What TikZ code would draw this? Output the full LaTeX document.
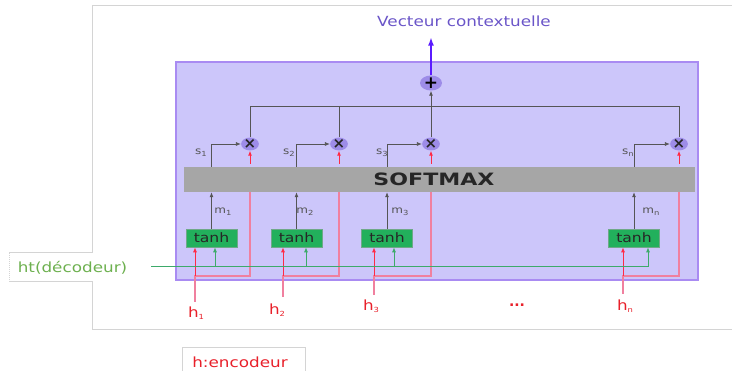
\documentclass[tikz,border=0pt]{standalone}
\usepackage{fontspec}
\setmainfont{DejaVu Sans}
\newfontfamily\wfont[FakeStretch=1.2]{DejaVu Sans}
\newfontfamily\smfont[FakeStretch=1.3]{DejaVu Sans}
\usetikzlibrary{arrows.meta,shapes.geometric}
\definecolor{framegray}{HTML}{D4D4D4}
\definecolor{pfill}{HTML}{CCC6FA}
\definecolor{pborder}{HTML}{A98BF2}
\definecolor{circ}{HTML}{9D8CE8}
\definecolor{smgray}{HTML}{A6A6A6}
\definecolor{tgreen}{HTML}{22B05C}
\definecolor{tborder}{HTML}{6FA888}
\definecolor{linegray}{HTML}{555555}
\definecolor{pinkcol}{HTML}{F0809F}
\definecolor{redarr}{HTML}{FF2A45}
\definecolor{greenl}{HTML}{3DAA6A}
\definecolor{toparr}{HTML}{5B1BFF}
\definecolor{vectxt}{HTML}{6A55C8}
\definecolor{httxt}{HTML}{6DB04F}
\definecolor{htxt}{HTML}{E8202A}
\newcommand\lsub[1]{\raisebox{-0.3ex}{\fontsize{7}{7}\selectfont #1}}
\begin{document}
\begin{tikzpicture}[x=1pt,y=-1pt,
  lin/.style={draw=linegray, line width=0.8pt},
  arr/.style={lin, -{Latex[length=5pt,width=4pt]}},
  mult/.style={ellipse, fill=circ, minimum width=17pt, minimum height=12pt, inner sep=0pt, font=\bfseries\fontsize{15}{15}\selectfont, text=black!85},
  plusn/.style={ellipse, fill=circ, minimum width=22pt, minimum height=15pt, inner sep=0pt, font=\bfseries\fontsize{17}{17}\selectfont},
  tanhbox/.style={rectangle, fill=tgreen, draw=tborder, line width=0.6pt, minimum width=51pt, minimum height=18pt, inner sep=0pt, font=\wfont\fontsize{13}{13}\selectfont, text=black!85},
  smbox/.style={rectangle, fill=smgray, minimum width=511pt, minimum height=25pt, inner sep=0pt},
  pbox/.style={rectangle, fill=pfill, draw=pborder, line width=1.3pt, minimum width=522pt, minimum height=218pt, inner sep=0pt},
  lab/.style={font=\wfont\fontsize{10}{10}\selectfont, text=linegray, inner sep=0pt},
  hlab/.style={font=\wfont\fontsize{14}{14}\selectfont, text=htxt, inner sep=0pt},
  pinkline/.style={draw=pinkcol, line width=1.3pt},
  redarrow/.style={draw=redarr, line width=1pt, -{Latex[length=5pt,width=4pt]}},
  greenline/.style={draw=greenl, line width=1pt},
  greenarrow/.style={draw=greenl, line width=1pt, -{Latex[length=5pt,width=4pt]}},
  framel/.style={draw=framegray, line width=1pt}
]
\useasboundingbox (0,0) rectangle (732,371);
% outer frame
\draw[framel] (732,6) -- (92,6) -- (92,253) -- (9,253);
\draw[framel, densely dotted] (9,253) -- (9,282);
\draw[framel] (9,282) -- (92,282) -- (92,330) -- (732,330);
\draw[framel] (182,380) -- (182,348) -- (305,348) -- (305,380);
% purple box
\node[pbox] (pb) at (437,171) {};
% nodes
\node[font=\wfont\fontsize{14}{14}\selectfont, text=vectxt, inner sep=0pt] (vec) at (464,21) {Vecteur contextuelle};
\node[plusn] (plus) at (431,83) {+};
\node[mult] (x1) at (250,144) {×};
\node[mult] (x2) at (339,144) {×};
\node[mult] (x3) at (431,144) {×};
\node[mult] (x4) at (679,144) {×};
\node[smbox] (sm) at (439.5,179.5) {};
\node[font=\smfont\bfseries\fontsize{17}{17}\selectfont, text=black!85, inner sep=0pt] (smt) at (434,179.5) {SOFTMAX};
\node[tanhbox] (t1) at (211.5,238) {tanh};
\node[tanhbox] (t2) at (296.5,238) {tanh};
\node[tanhbox] (t3) at (387,238) {tanh};
\node[tanhbox] (t4) at (634,238) {tanh};
% small labels
\node[lab] (s1) at (201,153) {s\lsub{1}};
\node[lab] (s2) at (289,153) {s\lsub{2}};
\node[lab] (s3) at (382,153) {s\lsub{3}};
\node[lab] (sn) at (628,153) {s\lsub{n}};
\node[lab] (m1) at (223,212) {m\lsub{1}};
\node[lab] (m2) at (305,212) {m\lsub{2}};
\node[lab] (m3) at (400,212) {m\lsub{3}};
\node[lab] (mn) at (651,212) {m\lsub{n}};
\node[hlab] (h1) at (196,313) {h\lsub{1}};
\node[hlab] (h2) at (277,310) {h\lsub{2}};
\node[hlab] (h3) at (371,306) {h\lsub{3}};
\node[hlab] (hn) at (625,306) {h\lsub{n}};
\node[hlab, font=\bfseries\fontsize{14}{14}\selectfont] (dots) at (517,305) {...};
\node[font=\wfont\fontsize{14}{14}\selectfont, text=httxt, inner sep=0pt] (ht) at (72.5,268) {ht(décodeur)};
\node[hlab] (henc) at (240,362) {h:encodeur};
% coordinates
\coordinate (jy) at (0,276);
\coordinate (bus) at (431,106);
\coordinate (gs) at (151,267);
\coordinate (e1) at (195,302);
\coordinate (e2) at (283,297);
\coordinate (e3) at (374,295);
\coordinate (e4) at (623,294);
\coordinate (g1) at (215,267);
\coordinate (g2) at (306,267);
\coordinate (g3) at (394,267);
\coordinate (g4) at (648,267);
% pink encoder lines
\foreach \i in {1,2,3,4}{
  \draw[pinkline] (e\i) |- (x\i|-jy) -- (x\i|-sm.south);
  \draw[redarrow] (e\i|-jy) -- (e\i|-t\i.south);
  \draw[redarrow, shorten <=3pt] (x\i|-sm.north) -- (x\i);
}
% green decoder line
\draw[greenline] (gs) -- (g4);
\foreach \i in {1,2,3,4}{
  \draw[greenarrow] (g\i) -- (g\i|-t\i.south);
}
% m and s arrows
\foreach \i in {1,2,3,4}{
  \draw[arr] (t\i.north) -- (t\i.north|-sm.south);
  \draw[arr] (t\i.north|-sm.north) |- (x\i);
}
% bus to sum
\draw[lin] (x1) |- (x4|-bus) -- (x4);
\draw[lin] (x2) -- (x2|-bus);
\draw[lin] (x3) -- (x3|-bus);
\draw[arr] (bus) -- (plus);
\draw[draw=toparr, line width=1.3pt, -{Latex[length=8pt,width=6pt]}, shorten >=11pt] (plus) -- (plus|-vec.south);
\end{tikzpicture}
\end{document}
